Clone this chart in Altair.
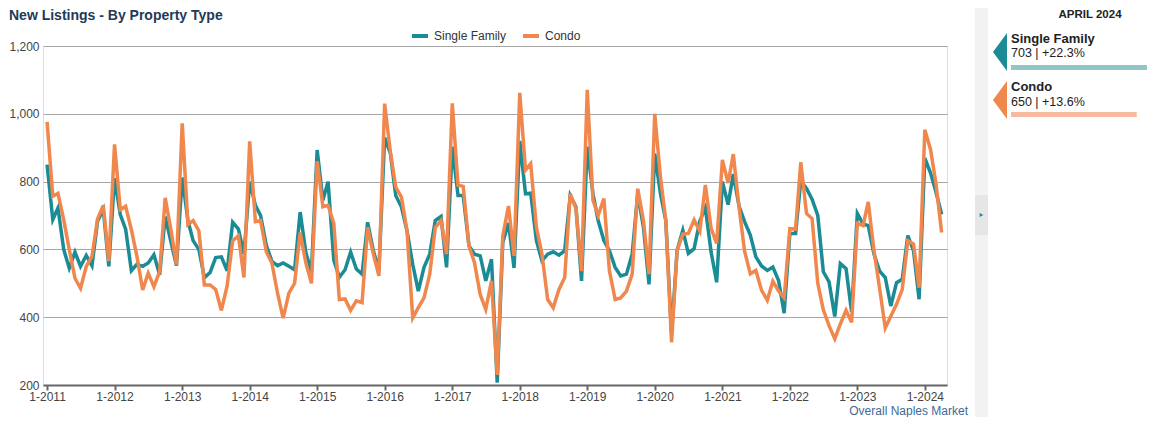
import altair as alt
import pandas as pd

# ---------------- data ----------------
series_names = ["Single Family", "Condo"]
series_colors = ["#1b8b95", "#f0874d"]
bar_colors = ["#8fc7c9", "#f6bb9f"]

single_family = [
    850, 688, 722, 600, 545, 592, 550, 582, 552, 683, 718, 550,
    810, 703, 660, 537, 556, 550, 560, 584, 525, 697, 623, 552,
    812, 685, 626, 600, 517, 532, 576, 578, 537, 680, 660, 586,
    800, 730, 700, 612, 565, 552, 560, 550, 540, 710, 590, 535,
    893, 745, 800, 568, 518, 540, 592, 542, 527, 680, 596, 537,
    930, 883, 759, 725, 655, 556, 477, 547, 586, 685, 697, 547,
    903, 759, 759, 611, 586, 581, 507, 571, 207, 620, 678, 545,
    920, 764, 766, 626, 566, 586, 593, 583, 596, 759, 725, 507,
    903, 764, 685, 626, 596, 547, 522, 527, 586, 764, 665, 497,
    883, 764, 685, 350, 597, 656, 588, 602, 684, 723, 592, 503,
    800, 732, 822, 728, 682, 642, 578, 551, 538, 548, 508, 412,
    647, 647, 802, 780, 748, 700, 534, 504, 402, 558, 543, 415,
    706, 675, 670, 586, 537, 517, 433, 502, 512, 641, 596, 453,
    869, 825, 770, 703,
]
condo = [
    976, 757, 765, 688, 600, 515, 485, 550, 580, 690, 730, 565,
    910, 717, 727, 658, 580, 480, 530, 490, 535, 752, 658, 555,
    972, 673, 685, 655, 495, 495, 482, 420, 492, 626, 640, 517,
    919, 682, 685, 593, 560, 470, 397, 471, 500, 650, 560, 500,
    860, 726, 730, 677, 452, 454, 420, 448, 443, 665, 586, 522,
    1030, 888, 784, 754, 655, 398, 428, 457, 527, 665, 685, 586,
    1031, 789, 786, 611, 561, 467, 423, 507, 230, 640, 728, 581,
    1062, 834, 853, 665, 586, 452, 428, 482, 517, 764, 720, 536,
    1071, 745, 700, 750, 537, 452, 457, 477, 527, 779, 685, 527,
    1000, 814, 685, 326, 597, 645, 647, 687, 654, 790, 662, 618,
    864, 796, 881, 725, 595, 528, 538, 479, 450, 506, 477, 457,
    661, 660, 857, 706, 691, 500, 422, 375, 336, 380, 420, 385,
    677, 670, 740, 596, 487, 368, 403, 438, 482, 626, 616, 487,
    953, 895, 795, 650,
]
y_ticks = [200, 400, 600, 800, 1000, 1200]
x_tick_years = list(range(2011, 2025))
panel_month = "APRIL 2024"
panel_values = [703, 650]
panel_changes = ["+22.3%", "+13.6%"]
title_text = "New Listings - By Property Type"
footer_text = "Overall Naples Market"

months = pd.date_range("2011-01-01", periods=len(single_family), freq="MS").strftime("%Y-%m-%dT00:00:00")
df = pd.DataFrame({
    "date": list(months) * 2,
    "value": single_family + condo,
    "type": [series_names[0]] * len(single_family) + [series_names[1]] * len(condo),
})
panel_df = pd.DataFrame({"type": series_names, "value": panel_values})
one = pd.DataFrame({"k": [0]})

FONT = "Liberation Sans"
W, H = 904, 339

# ---------------- main lines ----------------
x_enc = alt.X(
    "date:T",
    scale=alt.Scale(domain=[alt.DateTime(year=2010, month=12, date=10),
                            alt.DateTime(year=2024, month=4, date=30)]),
    axis=alt.Axis(
        values=[alt.DateTime(year=y, month=1, date=1) for y in x_tick_years],
        format="1-%Y", title=None, grid=False, labelFont=FONT, labelFontSize=12,
        labelColor="#444", domainColor="#666", domainWidth=2, tickColor="#666",
        tickWidth=2, tickSize=5, labelPadding=1, labelFlush=False,
    ),
)
y_enc = alt.Y(
    "value:Q",
    scale=alt.Scale(domain=[200, 1200], nice=False, zero=False),
    axis=alt.Axis(
        values=y_ticks, format=",.0f", title=None, grid=True, gridColor="#a6a6a6",
        gridWidth=1, domain=False, ticks=False, labelPadding=4, labelFont=FONT,
        labelFontSize=12, labelColor="#444",
    ),
)
color_enc = alt.Color(
    "type:N",
    scale=alt.Scale(domain=series_names, range=series_colors),
    legend=alt.Legend(
        orient="none", legendX=367, legendY=-20, direction="horizontal", title=None,
        symbolType="stroke", symbolStrokeWidth=4, symbolSize=256, labelFont=FONT,
        labelFontSize=12, labelColor="#333", columnPadding=8, padding=0, labelOffset=4,
    ),
)

base = alt.Chart(df).mark_line(strokeWidth=3.5).encode(x=x_enc, y=y_enc, color=color_enc)
line_sf = base.transform_filter(alt.datum.type == series_names[0])
line_condo = base.transform_filter(alt.datum.type == series_names[1])
lines = alt.layer(line_sf, line_condo)

# ---------------- decorations ----------------
def txt(s, x, y, size=12, weight="normal", color="#222", align="left"):
    return alt.Chart(one).mark_text(
        text=s, font=FONT, fontSize=size, fontWeight=weight, color=color,
        align=align, baseline="middle",
    ).encode(x=alt.value(x), y=alt.value(y))

title = txt(title_text, -34, -30, size=14, weight="bold", color="#213a59")
footer = txt(footer_text, 925, 365, size=12, color="#3d6a98", align="right")

strip = alt.Chart(one).mark_rect(color="#f2f2f2").encode(
    x=alt.value(932), x2=alt.value(945), y=alt.value(-38), y2=alt.value(371))
strip_box = alt.Chart(one).mark_rect(color="#e6e6e6").encode(
    x=alt.value(932), x2=alt.value(945), y=alt.value(149), y2=alt.value(189))
strip_arrow = alt.Chart(one).mark_point(
    shape="triangle-right", filled=True, size=18, color=series_colors[0], opacity=1
).encode(x=alt.value(938.5), y=alt.value(169))

month_lbl = txt(panel_month, 1047, -31, size=11.5, weight="bold", color="#222", align="center")

tri_shape = "M0.37,-1L-0.37,0L0.37,1Z"
tri_sf = alt.Chart(one).mark_point(shape=tri_shape, filled=True, size=1444,
                                   color=series_colors[0], opacity=1).encode(
    x=alt.value(957), y=alt.value(6))
tri_condo = alt.Chart(one).mark_point(shape=tri_shape, filled=True, size=1444,
                                      color=series_colors[1], opacity=1).encode(
    x=alt.value(957), y=alt.value(54))

name_sf = txt(series_names[0], 968, -7, size=13, weight="bold", color="#222")
val_sf = txt(f"{panel_values[0]} | {panel_changes[0]}", 968, 7, size=12.5, color="#222")
name_condo = txt(series_names[1], 968, 41, size=13, weight="bold", color="#222")
val_condo = txt(f"{panel_values[1]} | {panel_changes[1]}", 968, 56, size=12.5, color="#222")

bar_x = alt.X("value:Q", scale=alt.Scale(domain=[0, max(panel_values)], range=[968, 1104]), axis=None)
bar_sf = alt.Chart(panel_df).transform_filter(alt.datum.type == series_names[0]).mark_rect(
    color=bar_colors[0]).encode(x=bar_x, x2=alt.datum(0), y=alt.value(19), y2=alt.value(24))
bar_condo = alt.Chart(panel_df).transform_filter(alt.datum.type == series_names[1]).mark_rect(
    color=bar_colors[1]).encode(x=bar_x, x2=alt.datum(0), y=alt.value(66), y2=alt.value(71))
bars = alt.layer(bar_sf, bar_condo)

chart = alt.layer(
    lines, bars, title, footer, strip, strip_box, strip_arrow, month_lbl,
    tri_sf, tri_condo, name_sf, val_sf, name_condo, val_condo,
).resolve_scale(x="independent").properties(
    width=W, height=H,
    autosize=alt.AutoSizeParams(type="none"),
    padding={"left": 35, "top": 38, "right": 200, "bottom": 32},
).configure_view(stroke=None).configure(background="white")

chart.save("out.html", embed_options={"renderer": "svg", "actions": False})
